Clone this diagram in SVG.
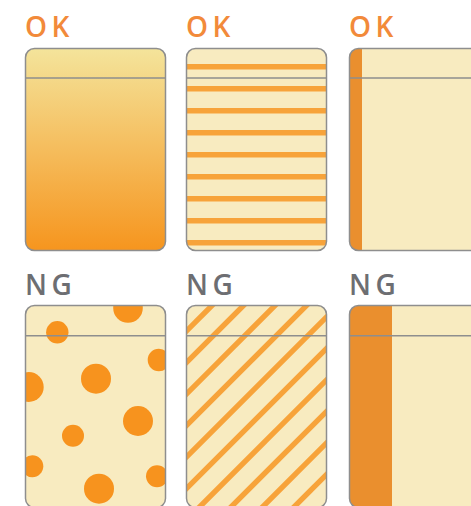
<svg xmlns="http://www.w3.org/2000/svg" width="471" height="506" viewBox="0 0 471 506">
  <style>
    .ok { font-family: "Open Sans", "Noto Sans", "Liberation Sans", sans-serif; font-size: 28px; font-weight: 600; fill: #F28A3A; letter-spacing: 4.5px; }
    .ng { font-family: "Open Sans", "Noto Sans", "Liberation Sans", sans-serif; font-size: 28px; font-weight: 600; fill: #6D6E72; letter-spacing: 4.5px; }
    .bg { fill: #F8EBC0; }
    .border { fill: none; stroke: #8E8E8E; stroke-width: 1.5; }
    .hdr { stroke: #8E8E8E; stroke-width: 1.5; }
    .hs { stroke: #F7A33A; stroke-width: 5.6; }
    .ds { stroke: #F7A33A; stroke-width: 5.4; }
    .dot { fill: #F7931E; }
    .band { fill: #EA8F2E; }
  </style>
  <defs>
    <linearGradient id="grad" x1="0" y1="0" x2="0" y2="1">
      <stop offset="0" stop-color="#F4E49B"/>
      <stop offset="1" stop-color="#F6951E"/>
    </linearGradient>
    <clipPath id="c2"><rect x="186.5" y="48.5" width="140" height="202" rx="9"/></clipPath>
    <clipPath id="c3"><rect x="349.5" y="48.5" width="140" height="202" rx="9"/></clipPath>
    <clipPath id="c4"><rect x="25.5" y="305.5" width="140" height="202" rx="9"/></clipPath>
    <clipPath id="c5"><rect x="186.5" y="305.5" width="140" height="202" rx="9"/></clipPath>
    <clipPath id="c6"><rect x="349.5" y="305.5" width="140" height="202" rx="9"/></clipPath>
  </defs>

  <g id="ok-gradient">
    <text class="ok" x="25" y="37">OK</text>
    <rect x="25.5" y="48.5" width="140" height="202" rx="9" fill="url(#grad)"/>
    <line class="hdr" x1="25.5" y1="78" x2="165.5" y2="78"/>
    <rect class="border" x="25.5" y="48.5" width="140" height="202" rx="9"/>
  </g>

  <g id="ok-stripes">
    <text class="ok" x="186" y="37">OK</text>
    <rect class="bg" x="186.5" y="48.5" width="140" height="202" rx="9"/>
    <g clip-path="url(#c2)">
      <line class="hs" x1="186" y1="66.7" x2="327" y2="66.7"/>
      <line class="hs" x1="186" y1="88.7" x2="327" y2="88.7"/>
      <line class="hs" x1="186" y1="110.7" x2="327" y2="110.7"/>
      <line class="hs" x1="186" y1="132.7" x2="327" y2="132.7"/>
      <line class="hs" x1="186" y1="154.7" x2="327" y2="154.7"/>
      <line class="hs" x1="186" y1="176.7" x2="327" y2="176.7"/>
      <line class="hs" x1="186" y1="198.7" x2="327" y2="198.7"/>
      <line class="hs" x1="186" y1="220.7" x2="327" y2="220.7"/>
      <line class="hs" x1="186" y1="242.7" x2="327" y2="242.7"/>
    </g>
    <line class="hdr" x1="186.5" y1="78" x2="326.5" y2="78"/>
    <rect class="border" x="186.5" y="48.5" width="140" height="202" rx="9"/>
  </g>

  <g id="ok-band">
    <text class="ok" x="349" y="37">OK</text>
    <rect class="bg" x="349.5" y="48.5" width="140" height="202" rx="9"/>
    <rect class="band" x="349" y="48" width="13" height="203" clip-path="url(#c3)"/>
    <line class="hdr" x1="349.5" y1="78" x2="471" y2="78"/>
    <rect class="border" x="349.5" y="48.5" width="140" height="202" rx="9"/>
  </g>

  <g id="ng-dots">
    <text class="ng" x="25" y="295">NG</text>
    <rect class="bg" x="25.5" y="305.5" width="140" height="202" rx="9"/>
    <g clip-path="url(#c4)">
      <circle class="dot" cx="128" cy="308" r="14.8"/>
      <circle class="dot" cx="57.3" cy="332.3" r="11.2"/>
      <circle class="dot" cx="158.9" cy="360" r="11.2"/>
      <circle class="dot" cx="96" cy="378.7" r="15"/>
      <circle class="dot" cx="28.7" cy="387" r="15"/>
      <circle class="dot" cx="138" cy="421" r="15"/>
      <circle class="dot" cx="73" cy="435.7" r="11"/>
      <circle class="dot" cx="32.3" cy="466.3" r="11"/>
      <circle class="dot" cx="157" cy="476.3" r="11"/>
      <circle class="dot" cx="99" cy="488.7" r="15"/>
    </g>
    <line class="hdr" x1="25.5" y1="335.7" x2="165.5" y2="335.7"/>
    <rect class="border" x="25.5" y="305.5" width="140" height="202" rx="9"/>
  </g>

  <g id="ng-diagonal">
    <text class="ng" x="186" y="295">NG</text>
    <rect class="bg" x="186.5" y="305.5" width="140" height="202" rx="9"/>
    <g clip-path="url(#c5)">
      <line class="ds" x1="176" y1="341.5" x2="337" y2="180.5"/>
      <line class="ds" x1="176" y1="373" x2="337" y2="212"/>
      <line class="ds" x1="176" y1="404.5" x2="337" y2="243.5"/>
      <line class="ds" x1="176" y1="436" x2="337" y2="275"/>
      <line class="ds" x1="176" y1="467.5" x2="337" y2="306.5"/>
      <line class="ds" x1="176" y1="499" x2="337" y2="338"/>
      <line class="ds" x1="176" y1="530.5" x2="337" y2="369.5"/>
      <line class="ds" x1="176" y1="562" x2="337" y2="401"/>
      <line class="ds" x1="176" y1="593.5" x2="337" y2="432.5"/>
      <line class="ds" x1="176" y1="625" x2="337" y2="464"/>
      <line class="ds" x1="176" y1="656.5" x2="337" y2="495.5"/>
    </g>
    <line class="hdr" x1="186.5" y1="335.7" x2="326.5" y2="335.7"/>
    <rect class="border" x="186.5" y="305.5" width="140" height="202" rx="9"/>
  </g>

  <g id="ng-band">
    <text class="ng" x="349" y="295">NG</text>
    <rect class="bg" x="349.5" y="305.5" width="140" height="202" rx="9"/>
    <rect class="band" x="349" y="305" width="43" height="203" clip-path="url(#c6)"/>
    <line class="hdr" x1="349.5" y1="335.7" x2="471" y2="335.7"/>
    <rect class="border" x="349.5" y="305.5" width="140" height="202" rx="9"/>
  </g>
</svg>
